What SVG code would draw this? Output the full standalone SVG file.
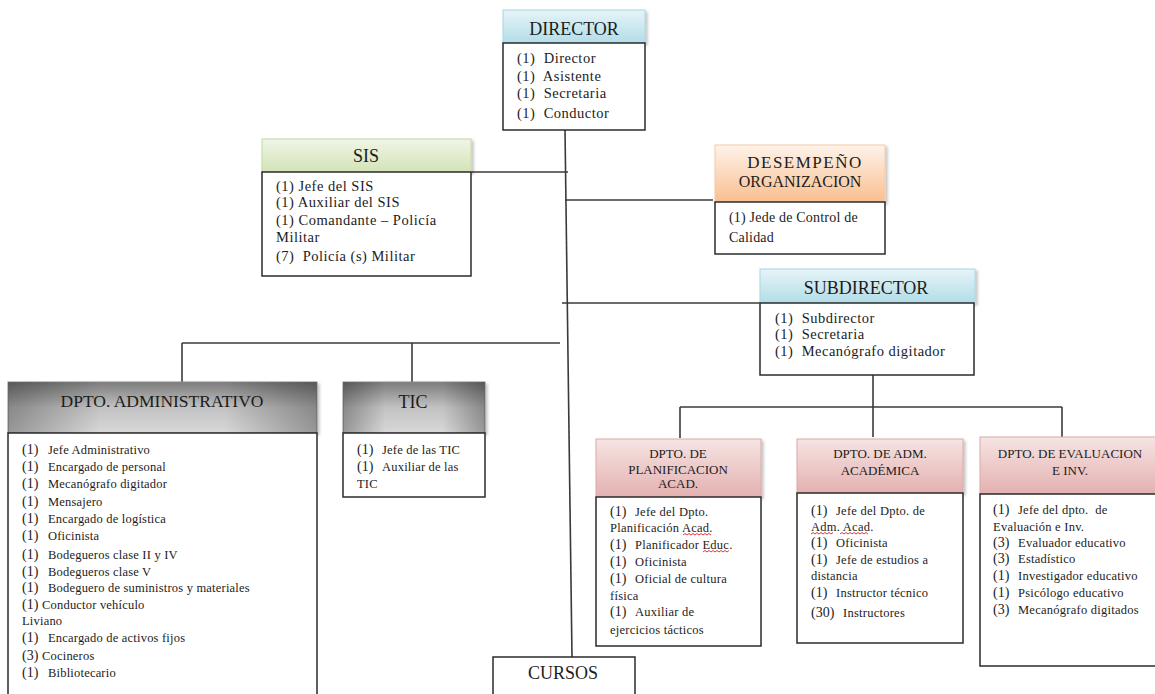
<svg xmlns="http://www.w3.org/2000/svg" width="1155" height="694" viewBox="0 0 1155 694" xml:space="preserve">
<defs>
<linearGradient id="gBlue" x1="0" y1="0" x2="0" y2="1"><stop offset="0" stop-color="#e6f4f8"/><stop offset="1" stop-color="#b3dde8"/></linearGradient>
<linearGradient id="gGreen" x1="0" y1="0" x2="0" y2="1"><stop offset="0" stop-color="#f0f5e8"/><stop offset="1" stop-color="#d3e4b6"/></linearGradient>
<linearGradient id="gOrange" x1="0" y1="0" x2="0" y2="1"><stop offset="0" stop-color="#fef3ea"/><stop offset="1" stop-color="#f9bf90"/></linearGradient>
<linearGradient id="gPink" x1="0" y1="0" x2="0" y2="1"><stop offset="0" stop-color="#f6e4e3"/><stop offset="1" stop-color="#e3b1b0"/></linearGradient>
<linearGradient id="gGray" x1="0" y1="0" x2="0" y2="1"><stop offset="0" stop-color="#7c7c7c"/><stop offset="0.5" stop-color="#c2c2c2"/><stop offset="1" stop-color="#d8d8d8"/></linearGradient>
<linearGradient id="gGrayH" x1="0" y1="0" x2="1" y2="0"><stop offset="0" stop-color="#000" stop-opacity="0.3"/><stop offset="0.3" stop-color="#000" stop-opacity="0"/><stop offset="0.7" stop-color="#000" stop-opacity="0"/><stop offset="1" stop-color="#000" stop-opacity="0.3"/></linearGradient>
<filter id="sh" x="-5%" y="-5%" width="115%" height="125%"><feDropShadow dx="2" dy="2" stdDeviation="1.5" flood-color="#000" flood-opacity="0.25"/></filter>
</defs>
<style>
.body{fill:#fff;stroke:#2b2b2b;stroke-width:1.5}
.hd{stroke-width:1;filter:url(#sh)}
.conn line{stroke:#3a3a3a;stroke-width:1.6}
text{font-family:"Liberation Serif","Times New Roman",serif;fill:#1c1c1c;white-space:pre}
.h{font-size:18px;text-anchor:middle}
.hs{font-size:13px;text-anchor:middle}
.t{font-size:14.5px;letter-spacing:0.5px}
.s{font-size:12.5px;letter-spacing:0.2px}
.n{font-size:14px}
.p{font-size:12.5px;letter-spacing:0.25px}
.sq{fill:none;stroke:#e02020;stroke-width:0.9}
</style>

<g id="connectors" class="conn">
<line x1="565" y1="130" x2="572" y2="657"/>
<line x1="471" y1="172" x2="568" y2="172"/>
<line x1="565" y1="200" x2="713" y2="200"/>
<line x1="562" y1="303" x2="760" y2="303"/>
<line x1="182" y1="343" x2="560" y2="343"/>
<line x1="182" y1="343" x2="182" y2="382"/>
<line x1="412" y1="343" x2="412" y2="382"/>
<line x1="873" y1="375" x2="873" y2="407"/>
<line x1="680" y1="407" x2="1062" y2="407"/>
<line x1="680" y1="407" x2="680" y2="438"/>
<line x1="873" y1="407" x2="873" y2="437"/>
<line x1="1062" y1="407" x2="1062" y2="437"/>
</g>

<g id="director">
<rect class="hd" x="503" y="10" width="142" height="33" fill="url(#gBlue)" stroke="#a9d6e3"/>
<text class="h" x="574" y="35">DIRECTOR</text>
<rect class="body" x="503" y="43" width="142" height="87"/>
<text class="t" x="517" y="63">(1)  Director</text>
<text class="t" x="517" y="81">(1)  Asistente</text>
<text class="t" x="517" y="98">(1)  Secretaria</text>
<text class="t" x="517" y="118">(1)  Conductor</text>
</g>

<g id="sis">
<rect class="hd" x="262" y="139" width="209" height="33" fill="url(#gGreen)" stroke="#c3d9a0"/>
<text class="h" x="366" y="162">SIS</text>
<rect class="body" x="262" y="172" width="209" height="104"/>
<text class="t" x="276" y="191">(1) Jefe del SIS</text>
<text class="t" x="276" y="207">(1) Auxiliar del SIS</text>
<text class="t" x="276" y="225">(1) Comandante – Policía</text>
<text class="t" x="276" y="242">Militar</text>
<text class="t" x="276" y="261">(7)  Policía (s) Militar</text>
</g>

<g id="desempeno">
<rect class="hd" x="715" y="145" width="170" height="57" fill="url(#gOrange)" stroke="#f5c9a6"/>
<text class="h" x="805" y="168" style="font-size:17px;letter-spacing:1.5px">DESEMPEÑO</text>
<text class="h" x="800" y="187" style="font-size:16px">ORGANIZACION</text>
<rect class="body" x="715" y="202" width="170" height="52"/>
<text class="t" x="729" y="222" style="font-size:14px;letter-spacing:0.2px">(1) Jede de Control de</text>
<text class="t" x="729" y="242" style="font-size:14px;letter-spacing:0.2px">Calidad</text>
</g>

<g id="subdirector">
<rect class="hd" x="760" y="269" width="215" height="34" fill="url(#gBlue)" stroke="#a9d6e3"/>
<text class="h" x="866" y="294">SUBDIRECTOR</text>
<rect class="body" x="760" y="303" width="214" height="72"/>
<text class="t" x="775" y="323">(1)  Subdirector</text>
<text class="t" x="775" y="339">(1)  Secretaria</text>
<text class="t" x="775" y="356">(1)  Mecanógrafo digitador</text>
</g>

<g id="dpto-administrativo">
<rect class="hd" x="8" y="382" width="309" height="51" fill="url(#gGray)" stroke="#8a8a8a"/>
<rect x="8" y="382" width="309" height="51" fill="url(#gGrayH)"/>
<text class="h" x="162" y="407" style="font-size:17.5px">DPTO. ADMINISTRATIVO</text>
<rect class="body" x="8" y="433" width="309" height="264"/>
<text class="n" x="22" y="454">(1)</text><text class="s" x="48" y="454">Jefe Administrativo</text>
<text class="n" x="22" y="471">(1)</text><text class="s" x="48" y="471">Encargado de personal</text>
<text class="n" x="22" y="488">(1)</text><text class="s" x="48" y="488">Mecanógrafo digitador</text>
<text class="n" x="22" y="506">(1)</text><text class="s" x="48" y="506">Mensajero</text>
<text class="n" x="22" y="523">(1)</text><text class="s" x="48" y="523">Encargado de logística</text>
<text class="n" x="22" y="540">(1)</text><text class="s" x="48" y="540">Oficinista</text>
<text class="n" x="22" y="559">(1)</text><text class="s" x="48" y="559">Bodegueros clase II y IV</text>
<text class="n" x="22" y="576">(1)</text><text class="s" x="48" y="576">Bodegueros clase V</text>
<text class="n" x="22" y="592">(1)</text><text class="s" x="48" y="592">Bodeguero de suministros y materiales</text>
<text class="n" x="22" y="609">(1)</text><text class="s" x="42" y="609">Conductor vehículo</text>
<text class="s" x="22" y="625">Liviano</text>
<text class="n" x="22" y="642">(1)</text><text class="s" x="48" y="642">Encargado de activos fijos</text>
<text class="n" x="22" y="660">(3)</text><text class="s" x="42" y="660">Cocineros</text>
<text class="n" x="22" y="677">(1)</text><text class="s" x="48" y="677">Bibliotecario</text>
</g>

<g id="tic">
<rect class="hd" x="343" y="382" width="142" height="51" fill="url(#gGray)" stroke="#8a8a8a"/>
<rect x="343" y="382" width="142" height="51" fill="url(#gGrayH)"/>
<text class="h" x="413" y="408">TIC</text>
<rect class="body" x="343" y="433" width="142" height="64"/>
<text class="n" x="357" y="454">(1)</text><text class="s" x="382" y="454">Jefe de las TIC</text>
<text class="n" x="357" y="471">(1)</text><text class="s" x="382" y="471">Auxiliar de las</text>
<text class="s" x="357" y="488">TIC</text>
</g>

<g id="dpto-planificacion">
<rect class="hd" x="596" y="439" width="165" height="58" fill="url(#gPink)" stroke="#dba9a8"/>
<text class="hs" x="678" y="458">DPTO. DE</text>
<text class="hs" x="678" y="474">PLANIFICACION</text>
<text class="hs" x="678" y="488">ACAD.</text>
<rect class="body" x="596" y="497" width="165" height="149"/>
<text class="n" x="610" y="516">(1)</text><text class="p" x="635" y="516">Jefe del Dpto.</text>
<text class="p" x="610" y="532">Planificación Acad.</text>
<path class="sq" d="M683 535 l2 -1.5 l2 1.5 l2 -1.5 l2 1.5 l2 -1.5 l2 1.5 l2 -1.5 l2 1.5 l2 -1.5 l2 1.5 l2 -1.5 l2 1.5 l2 -1.5 l2 1.5"/>
<text class="n" x="610" y="549">(1)</text><text class="p" x="635" y="549">Planificador Educ.</text>
<path class="sq" d="M703 552 l2 -1.5 l2 1.5 l2 -1.5 l2 1.5 l2 -1.5 l2 1.5 l2 -1.5 l2 1.5 l2 -1.5 l2 1.5 l2 -1.5 l2 1.5 l2 -1.5"/>
<text class="n" x="610" y="566">(1)</text><text class="p" x="635" y="566">Oficinista</text>
<text class="n" x="610" y="583">(1)</text><text class="p" x="635" y="583">Oficial de cultura</text>
<text class="p" x="610" y="600">física</text>
<text class="n" x="610" y="616">(1)</text><text class="p" x="635" y="616">Auxiliar de</text>
<text class="p" x="610" y="634">ejercicios tácticos</text>
</g>

<g id="dpto-adm-academica">
<rect class="hd" x="797" y="439" width="166" height="54" fill="url(#gPink)" stroke="#dba9a8"/>
<text class="hs" x="880" y="458">DPTO. DE ADM.</text>
<text class="hs" x="880" y="475">ACADÉMICA</text>
<rect class="body" x="797" y="493" width="166" height="150"/>
<text class="n" x="811" y="515">(1)</text><text class="p" x="836" y="515">Jefe del Dpto. de</text>
<text class="p" x="811" y="531">Adm. Acad.</text>
<path class="sq" d="M811 534 l2 -1.5 l2 1.5 l2 -1.5 l2 1.5 l2 -1.5 l2 1.5 l2 -1.5 l2 1.5 l2 -1.5 l2 1.5 l2 -1.5"/>
<path class="sq" d="M840 534 l2 -1.5 l2 1.5 l2 -1.5 l2 1.5 l2 -1.5 l2 1.5 l2 -1.5 l2 1.5 l2 -1.5 l2 1.5 l2 -1.5 l2 1.5 l2 -1.5 l2 1.5"/>
<text class="n" x="811" y="547">(1)</text><text class="p" x="836" y="547">Oficinista</text>
<text class="n" x="811" y="564">(1)</text><text class="p" x="836" y="564">Jefe de estudios a</text>
<text class="p" x="811" y="580">distancia</text>
<text class="n" x="811" y="597">(1)</text><text class="p" x="836" y="597">Instructor técnico</text>
<text class="n" x="811" y="617">(30)</text><text class="p" x="843" y="617">Instructores</text>
</g>

<g id="dpto-evaluacion">
<rect class="hd" x="980" y="437" width="180" height="57" fill="url(#gPink)" stroke="#dba9a8"/>
<text class="hs" x="1070" y="458">DPTO. DE EVALUACION</text>
<text class="hs" x="1070" y="475">E INV.</text>
<rect class="body" x="980" y="494" width="180" height="172"/>
<text class="n" x="993" y="514">(1)</text><text class="p" x="1018" y="514">Jefe del dpto.  de</text>
<text class="p" x="993" y="531">Evaluación e Inv.</text>
<text class="n" x="993" y="547">(3)</text><text class="p" x="1018" y="547">Evaluador educativo</text>
<text class="n" x="993" y="563">(3)</text><text class="p" x="1018" y="563">Estadístico</text>
<text class="n" x="993" y="580">(1)</text><text class="p" x="1018" y="580">Investigador educativo</text>
<text class="n" x="993" y="597">(1)</text><text class="p" x="1018" y="597">Psicólogo educativo</text>
<text class="n" x="993" y="614">(3)</text><text class="p" x="1018" y="614">Mecanógrafo digitados</text>
</g>

<g id="cursos">
<rect class="body" x="493" y="657" width="142" height="45"/>
<text class="h" x="563" y="679">CURSOS</text>
</g>
</svg>
